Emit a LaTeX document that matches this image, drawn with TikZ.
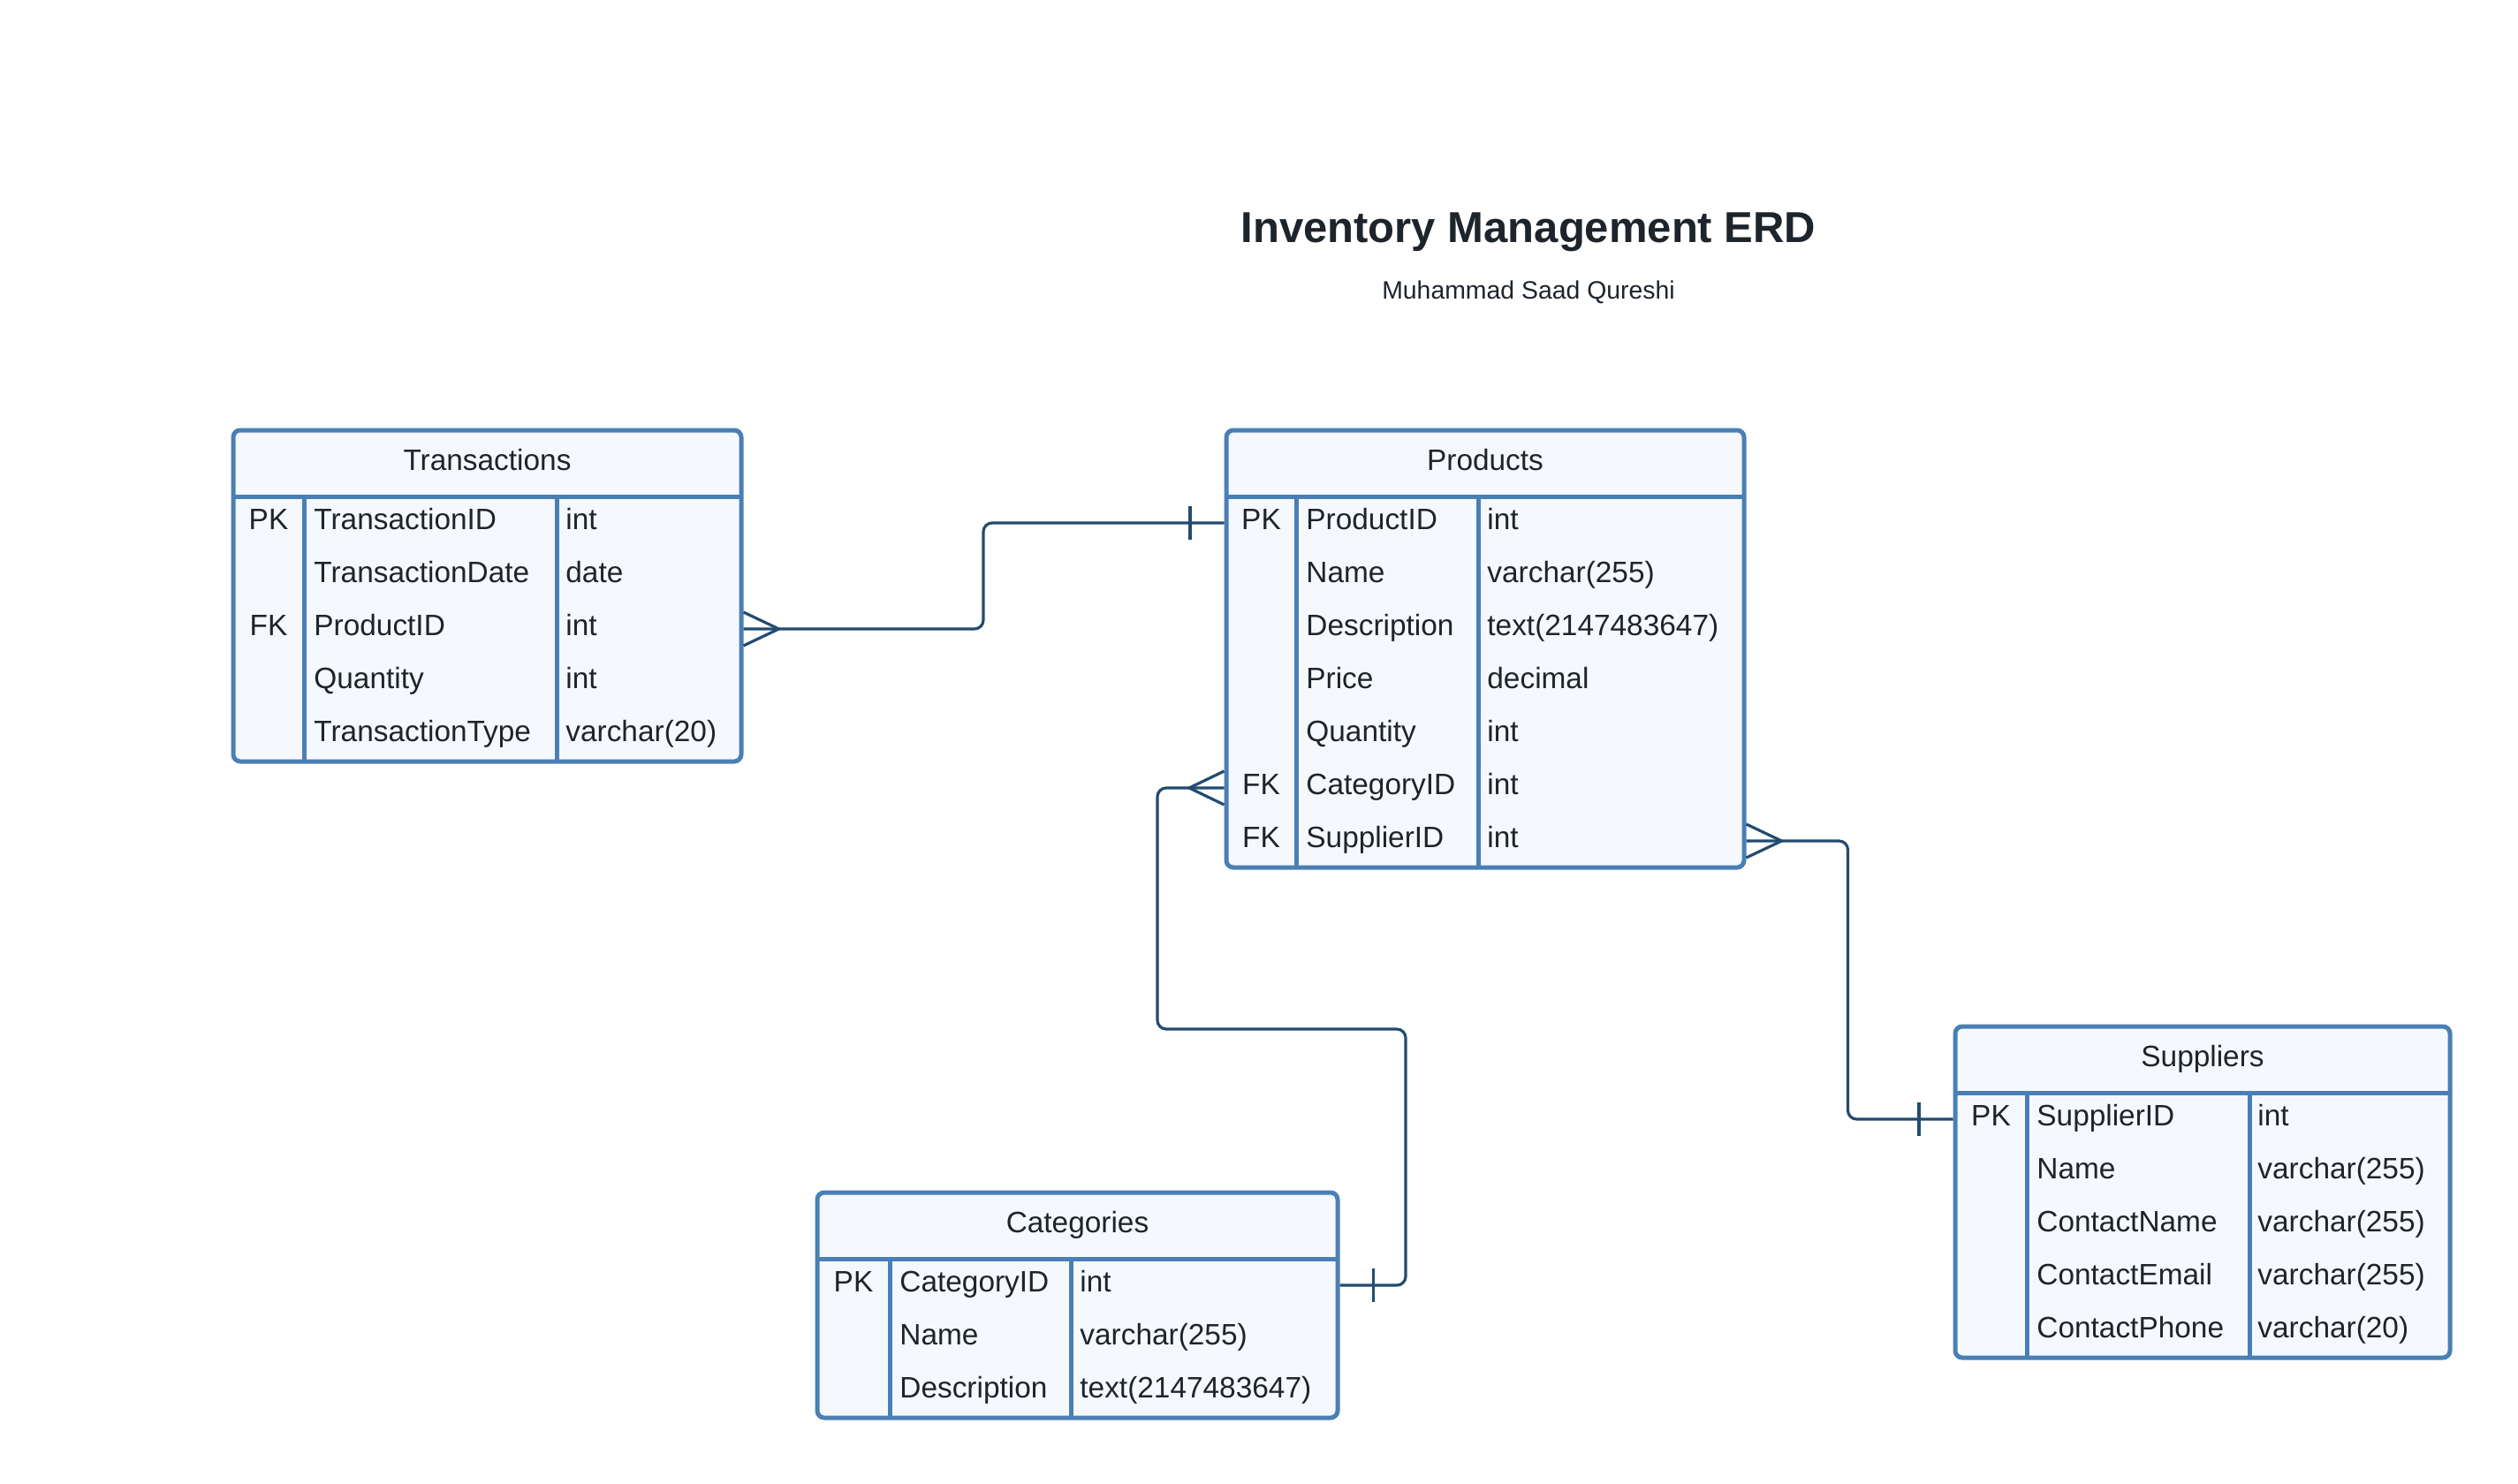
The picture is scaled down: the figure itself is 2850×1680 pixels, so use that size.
\documentclass[tikz,border=0pt]{standalone}
\usepackage{fontspec}
\setmainfont{Liberation Sans}
\definecolor{tableblue}{HTML}{4A7FB5}
\definecolor{tablefill}{HTML}{F5F9FE}
\definecolor{linkblue}{HTML}{234B70}
\definecolor{textdark}{HTML}{1D242B}

\begin{document}
\begin{tikzpicture}[x=0.5pt, y=-0.5pt, text=textdark, font=\fontsize{16.7}{20}\selectfont,
    entity/.style={draw=tableblue, fill=tablefill, line width=2.5pt, rounded corners=4pt, anchor=north west, inner sep=0pt, outer sep=0pt},
    rule/.style={draw=tableblue, line width=2.5pt},
    rowbox/.style={minimum height=30pt, inner sep=0pt, outer sep=1.25pt},
    field/.style={anchor=base west, inner sep=0pt},
    keyfield/.style={anchor=base, inner sep=0pt},
    rel/.style={draw=linkblue, line width=1.6pt, rounded corners=5pt}]
      \fill[white] (0,0) rectangle (2850,1680);
      \node[anchor=base, font=\bfseries\fontsize{24.5}{29}\selectfont] (title) at (1730,275) {Inventory Management ERD};
      \node[anchor=base, font=\fontsize{14.2}{17}\selectfont] (author) at (1730,339) {Muhammad Saad Qureshi};

      \node[entity, minimum width=287.5pt, minimum height=187.5pt] (trans) at (264,487) {};
      \node[anchor=base] (trans-name) at (551.5,532) {Transactions};
      \draw[rule] (264,562) -- (839,562) (344,562) -- (344,862) (630,562) -- (630,862);
      \foreach \k/\f/\t [count=\i] in {PK/TransactionID/int, /TransactionDate/date, FK/ProductID/int, /Quantity/int, /TransactionType/varchar(20)} {
        \node[rowbox, minimum width=287.5pt] (trans-\i) at (551.5,532+60*\i) {};
        \node[keyfield] (trans-k\i) at (304,539+60*\i) {\k};
        \node[field] (trans-f\i) at (355,539+60*\i) {\f};
        \node[field] (trans-t\i) at (640,539+60*\i) {\t};
      }

      \node[entity, minimum width=293pt, minimum height=247.5pt] (prod) at (1388,487) {};
      \node[anchor=base] (prod-name) at (1681,532) {Products};
      \draw[rule] (1388,562) -- (1974,562) (1467,562) -- (1467,982) (1673,562) -- (1673,982);
      \foreach \k/\f/\t [count=\i] in {PK/ProductID/int, /Name/varchar(255), /Description/text(2147483647), /Price/decimal, /Quantity/int, FK/CategoryID/int, FK/SupplierID/int} {
        \node[rowbox, minimum width=293pt] (prod-\i) at (1681,532+60*\i) {};
        \node[keyfield] (prod-k\i) at (1427.5,539+60*\i) {\k};
        \node[field] (prod-f\i) at (1478,539+60*\i) {\f};
        \node[field] (prod-t\i) at (1683,539+60*\i) {\t};
      }

      \node[entity, minimum width=294.5pt, minimum height=127.5pt] (cat) at (925,1350) {};
      \node[anchor=base] (cat-name) at (1219.5,1395) {Categories};
      \draw[rule] (925,1425) -- (1514,1425) (1007,1425) -- (1007,1605) (1212,1425) -- (1212,1605);
      \foreach \k/\f/\t [count=\i] in {PK/CategoryID/int, /Name/varchar(255), /Description/text(2147483647)} {
        \node[rowbox, minimum width=294.5pt] (cat-\i) at (1219.5,1395+60*\i) {};
        \node[keyfield] (cat-k\i) at (966,1402+60*\i) {\k};
        \node[field] (cat-f\i) at (1018,1402+60*\i) {\f};
        \node[field] (cat-t\i) at (1222,1402+60*\i) {\t};
      }

      \node[entity, minimum width=280pt, minimum height=187.5pt] (sup) at (2213,1162) {};
      \node[anchor=base] (sup-name) at (2493,1207) {Suppliers};
      \draw[rule] (2213,1237) -- (2773,1237) (2294,1237) -- (2294,1537) (2546,1237) -- (2546,1537);
      \foreach \k/\f/\t [count=\i] in {PK/SupplierID/int, /Name/varchar(255), /ContactName/varchar(255), /ContactEmail/varchar(255), /ContactPhone/varchar(20)} {
        \node[rowbox, minimum width=280pt] (sup-\i) at (2493,1207+60*\i) {};
        \node[keyfield] (sup-k\i) at (2253.5,1214+60*\i) {\k};
        \node[field] (sup-f\i) at (2305,1214+60*\i) {\f};
        \node[field] (sup-t\i) at (2555,1214+60*\i) {\t};
      }

      \draw[rel] (trans-3.east) -- ++(271.5,0) |- (prod-1.west);
      \draw[rel, sharp corners] (trans-3.east) ++(0,-19) -- ++(40,19) -- ++(-40,19);
      \draw[rel] (prod-1.west) ++(-38.5,-19) -- ++(0,38);

      \draw[rel] (prod-6.west) -- ++(-75.5,0) |- ++(281,273) |- (cat-1.east);
      \draw[rel, sharp corners] (prod-6.west) ++(0,-19) -- ++(-39.5,19) -- ++(39.5,19);
      \draw[rel] (cat-1.east) ++(38,-19) -- ++(0,38);

      \draw[rel] (prod-7.east) -- ++(115,0) |- (sup-1.west);
      \draw[rel, sharp corners] (prod-7.east) ++(0,-19) -- ++(40,19) -- ++(-40,19);
      \draw[rel] (sup-1.west) ++(-38.5,-19) -- ++(0,38);
\end{tikzpicture}
\end{document}
